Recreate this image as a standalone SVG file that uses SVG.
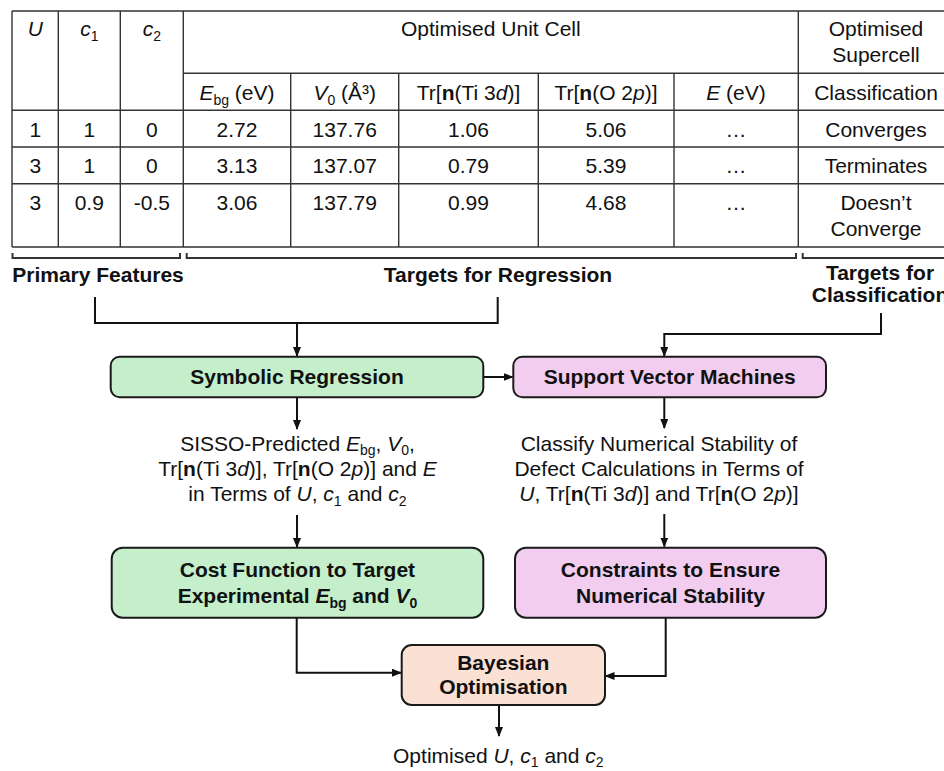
<svg xmlns="http://www.w3.org/2000/svg" width="944" height="771" viewBox="0 0 944 771">
<defs>
<style>
text{font-family:"Liberation Sans",Arial,sans-serif;font-size:21px;fill:#111;text-anchor:middle}
.b{font-weight:bold}
.i{font-style:italic}
.s{font-size:14px}
.grid{stroke:#333;stroke-width:1.4;fill:none}
.br{stroke:#333;stroke-width:2;fill:none}
.box{stroke:#1a1a1a;stroke-width:2}
.g{fill:#c4efca}
.p{fill:#f2cdef}
.o{fill:#fbe0d4}
.con{stroke:#111;stroke-width:2;fill:none}
</style>
<marker id="ah" markerWidth="10" markerHeight="8" refX="9" refY="4" orient="auto" markerUnits="userSpaceOnUse">
<path d="M0,0 L10,4 L0,8 Z" fill="#111"/>
</marker>
</defs>
<rect width="944" height="771" fill="#fff"/>

<g id="table">
<path class="grid" d="M12,11 H944 M12,11 V247 M58.3,11 V247 M120.3,11 V247 M183.3,11 V247 M798.3,11 V247 M290.7,73.3 V247 M398.7,73.3 V247 M538.3,73.3 V247 M674,73.3 V247 M183.3,73.3 H944 M12,110.3 H944 M12,147 H944 M12,183.7 H944 M12,247 H944"/>
<text x="35.3" y="36" class="i">U</text>
<text x="89.3" y="36"><tspan class="i">c</tspan><tspan class="s" dy="5">1</tspan></text>
<text x="151.8" y="36"><tspan class="i">c</tspan><tspan class="s" dy="5">2</tspan></text>
<text x="490.8" y="36">Optimised Unit Cell</text>
<text x="876" y="36">Optimised</text>
<text x="876" y="61.7">Supercell</text>
<text x="237" y="100"><tspan class="i">E</tspan><tspan class="s" dy="5">bg</tspan><tspan dy="-5"> (eV)</tspan></text>
<text x="344.7" y="100"><tspan class="i">V</tspan><tspan class="s" dy="5">0</tspan><tspan dy="-5"> (Å³)</tspan></text>
<text x="468.5" y="100">Tr[<tspan class="b">n</tspan>(Ti 3<tspan class="i">d</tspan>)]</text>
<text x="606" y="100">Tr[<tspan class="b">n</tspan>(O 2<tspan class="i">p</tspan>)]</text>
<text x="736" y="100"><tspan class="i">E</tspan> (eV)</text>
<text x="876" y="100">Classification</text>
<text x="35.3" y="136.7">1</text><text x="89.3" y="136.7">1</text><text x="151.8" y="136.7">0</text><text x="237" y="136.7">2.72</text><text x="344.7" y="136.7">137.76</text><text x="468.5" y="136.7">1.06</text><text x="606" y="136.7">5.06</text><text x="736" y="136.7">…</text><text x="876" y="136.7">Converges</text>
<text x="35.3" y="173.3">3</text><text x="89.3" y="173.3">1</text><text x="151.8" y="173.3">0</text><text x="237" y="173.3">3.13</text><text x="344.7" y="173.3">137.07</text><text x="468.5" y="173.3">0.79</text><text x="606" y="173.3">5.39</text><text x="736" y="173.3">…</text><text x="876" y="173.3">Terminates</text>
<text x="35.3" y="210">3</text><text x="89.3" y="210">0.9</text><text x="151.8" y="210">-0.5</text><text x="237" y="210">3.06</text><text x="344.7" y="210">137.79</text><text x="468.5" y="210">0.99</text><text x="606" y="210">4.68</text><text x="736" y="210">…</text><text x="876" y="210">Doesn’t</text>
<text x="876" y="235.5">Converge</text>
</g>

<g id="brackets">
<path class="br" d="M12.5,253 V258 H180 V253 M186.7,253 V258 H796 V253 M802.7,253 V258 H944"/>
<text x="98" y="282" class="b">Primary Features</text>
<text x="498" y="282" class="b">Targets for Regression</text>
<text x="880" y="280" class="b">Targets for</text>
<text x="880" y="302" class="b">Classification</text>
</g>

<g id="connectors">
<path class="con" d="M95,297 V323 H497.7 V297"/>
<path class="con" d="M297,323 V356" marker-end="url(#ah)"/>
<path class="con" d="M483.3,377 H512.5" marker-end="url(#ah)"/>
<path class="con" d="M881,313 V334 H664.3 V356" marker-end="url(#ah)"/>
<path class="con" d="M297,397.3 V429" marker-end="url(#ah)"/>
<path class="con" d="M664.3,397.3 V428" marker-end="url(#ah)"/>
<path class="con" d="M297,515 V547" marker-end="url(#ah)"/>
<path class="con" d="M664.3,514 V546.5" marker-end="url(#ah)"/>
<path class="con" d="M296.7,617.7 V672.7 H401" marker-end="url(#ah)"/>
<path class="con" d="M665.7,617.7 V676 H605.5" marker-end="url(#ah)"/>
<path class="con" d="M499,705 V736" marker-end="url(#ah)"/>
</g>

<g id="symbolic-regression">
<rect class="box g" x="110.7" y="356.7" width="372.6" height="40.6" rx="9"/>
<text x="297" y="384" class="b">Symbolic Regression</text>
</g>

<g id="svm">
<rect class="box p" x="513.3" y="356.7" width="312.7" height="40.6" rx="9"/>
<text x="669.7" y="384" class="b">Support Vector Machines</text>
</g>

<g id="sisso-text">
<text x="297.5" y="451">SISSO-Predicted <tspan class="i">E</tspan><tspan class="s" dy="4">bg</tspan><tspan dy="-4">, </tspan><tspan class="i">V</tspan><tspan class="s" dy="4">0</tspan><tspan dy="-4">,</tspan></text>
<text x="297.5" y="476">Tr[<tspan class="b">n</tspan>(Ti 3<tspan class="i">d</tspan>)], Tr[<tspan class="b">n</tspan>(O 2<tspan class="i">p</tspan>)] and <tspan class="i">E</tspan></text>
<text x="297.5" y="501">in Terms of <tspan class="i">U</tspan>, <tspan class="i">c</tspan><tspan class="s" dy="5">1</tspan><tspan dy="-5"> and </tspan><tspan class="i">c</tspan><tspan class="s" dy="5">2</tspan></text>
</g>

<g id="classify-text">
<text x="659" y="451">Classify Numerical Stability of</text>
<text x="659" y="476">Defect Calculations in Terms of</text>
<text x="659" y="501"><tspan class="i">U</tspan>, Tr[<tspan class="b">n</tspan>(Ti 3<tspan class="i">d</tspan>)] and Tr[<tspan class="b">n</tspan>(O 2<tspan class="i">p</tspan>)]</text>
</g>

<g id="cost-function">
<rect class="box g" x="111.7" y="547.7" width="371.6" height="70" rx="11"/>
<text x="297.5" y="576.7" class="b">Cost Function to Target</text>
<text x="297.5" y="603.3" class="b">Experimental <tspan class="i">E</tspan><tspan class="s" dy="5">bg</tspan><tspan dy="-5"> and </tspan><tspan class="i">V</tspan><tspan class="s" dy="5">0</tspan></text>
</g>

<g id="constraints">
<rect class="box p" x="515" y="547.7" width="311" height="70" rx="11"/>
<text x="670.5" y="576.7" class="b">Constraints to Ensure</text>
<text x="670.5" y="603.3" class="b">Numerical Stability</text>
</g>

<g id="bayesian">
<rect class="box o" x="401.7" y="645" width="203.3" height="60" rx="10"/>
<text x="503.3" y="669.5" class="b">Bayesian</text>
<text x="503.3" y="694" class="b">Optimisation</text>
</g>

<g id="output-text">
<text x="498.3" y="763">Optimised <tspan class="i">U</tspan>, <tspan class="i">c</tspan><tspan class="s" dy="4">1</tspan><tspan dy="-4"> and </tspan><tspan class="i">c</tspan><tspan class="s" dy="4">2</tspan></text>
</g>
</svg>
